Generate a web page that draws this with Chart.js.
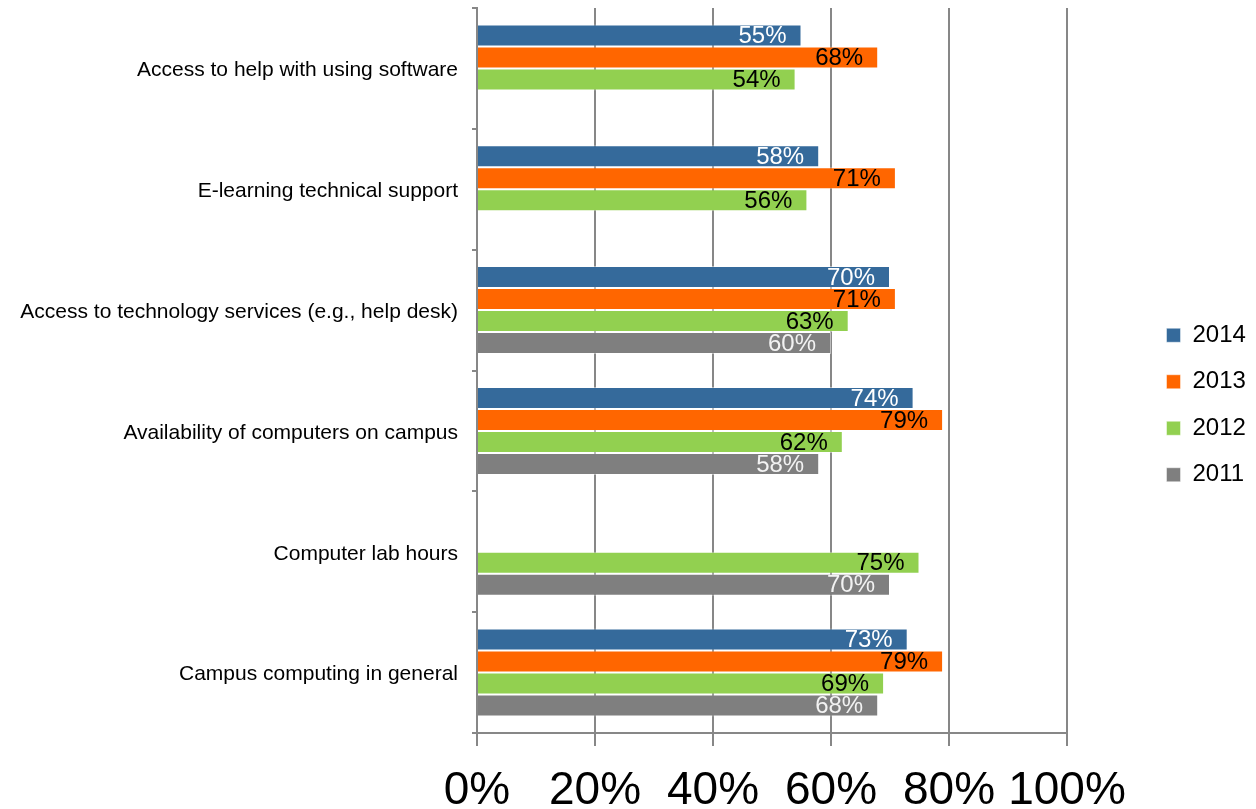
<!DOCTYPE html>
<html><head><meta charset="utf-8">
<script src="https://cdn.jsdelivr.net/npm/chart.js@4"></script>
<style>html,body{margin:0;padding:0;background:#fff;} canvas{display:block;}</style>
</head><body>
<canvas id="c" width="1256" height="809"></canvas>
<script>
const categories = ['Access to help with using software','E-learning technical support','Access to technology services (e.g., help desk)','Availability of computers on campus','Computer lab hours','Campus computing in general'];
const seriesNames = ['2014','2013','2012','2011'];
const values2014 = [55,58,70,74,null,73];
const values2013 = [68,71,71,79,null,79];
const values2012 = [54,56,63,62,75,69];
const values2011 = [null,null,60,58,70,68];
const xTickValues = [0,20,40,60,80,100];

const colors = ['#356A9B','#FF6600','#92D050','#7F7F7F'];
const labelColors = ['#FFFFFF','#000000','#000000','#F2F2F2'];
const FONT = '"Liberation Sans", Arial, sans-serif';

const barLabels = {
  id:'barLabels',
  afterDatasetsDraw(chart){
    const ctx = chart.ctx;
    ctx.save();
    ctx.font = '24px ' + FONT;
    ctx.textAlign = 'right';
    ctx.textBaseline = 'middle';
    chart.data.datasets.forEach((ds,i)=>{
      const meta = chart.getDatasetMeta(i);
      meta.data.forEach((bar,j)=>{
        const v = ds.data[j];
        if (v == null) return;
        ctx.fillStyle = labelColors[i];
        ctx.fillText(v + '%', bar.x - 15, bar.y + 1);
      });
    });
    ctx.restore();
  }
};

const legendPlace = {
  id:'legendPlace',
  beforeInit(chart){
    const lg = chart.legend;
    const origFit = lg.fit;
    lg.fit = function(){ origFit.call(this); this.width = 189; };
  },
  afterLayout(chart){
    const lg = chart.legend;
    lg.left = 1144;
    lg.top -= 7;
  }
};

const allValues = [values2014, values2013, values2012, values2011];

new Chart(document.getElementById('c'), {
  type:'bar',
  data:{
    labels: categories,
    datasets: seriesNames.map((name,i)=>({
      label:name,
      data: allValues[i],
      backgroundColor: colors[i],
      borderColor: 'rgba(255,255,255,0.45)',
      borderWidth: 1
    }))
  },
  options:{
    indexAxis:'y',
    responsive:false,
    animation:false,
    devicePixelRatio:1,
    layout:{padding:{top:8,left:0,right:0,bottom:0}},
    datasets:{bar:{categoryPercentage:0.728, barPercentage:1}},
    plugins:{
      legend:{position:'right', align:'center', labels:{boxWidth:14, boxHeight:14, padding:22.5, color:'#000', font:{family:FONT, size:24}}},
      tooltip:{enabled:false}
    },
    scales:{
      x:{
        min:0, max:100,
        afterBuildTicks(scale){ scale.ticks = xTickValues.map(v=>({value:v})); },
        ticks:{callback:v=>v+'%', color:'#000', font:{family:FONT, size:46, lineHeight:1}, padding:22, maxRotation:0, minRotation:0, autoSkip:false},
        grid:{color:'#878787', lineWidth:2, tickLength:13, drawOnChartArea:true},
        border:{color:'#878787', width:2},
        afterFit(s){ s.height = 76; }
      },
      y:{
        ticks:{color:'#000', font:{family:FONT, size:21}, padding:14, autoSkip:false, labelOffset:2},
        grid:{offset:true, drawOnChartArea:false, color:'#878787', lineWidth:2, tickLength:5},
        border:{color:'#878787', width:2},
        afterFit(s){ s.width = 477; s.paddingTop = 0; s.paddingBottom = 0; }
      }
    }
  },
  plugins:[barLabels, legendPlace]
});
</script>
</body></html>
